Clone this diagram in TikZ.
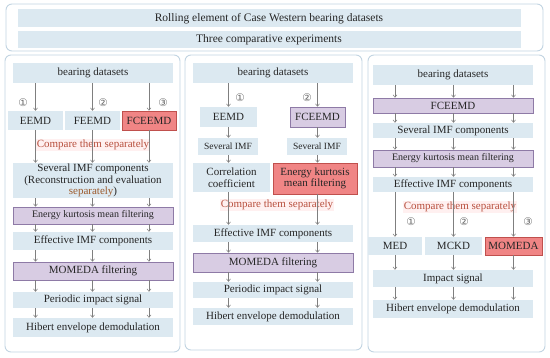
\documentclass[tikz,border=0pt]{standalone}
\usepackage{fontspec}
\setmainfont{Liberation Serif}
\newfontfamily\circfont{DejaVu Sans}
\usetikzlibrary{arrows.meta}
\definecolor{boxblue}{HTML}{DCE9F1}
\definecolor{boxpurple}{HTML}{D8CCE3}
\definecolor{purpleline}{HTML}{8E7AA6}
\definecolor{boxred}{HTML}{F08585}
\definecolor{redline}{HTML}{C0504D}
\definecolor{cmpred}{HTML}{B8503E}
\definecolor{sepbrown}{HTML}{9C5A2C}
\definecolor{panelline}{HTML}{C2D4E2}
\definecolor{arrowgray}{HTML}{7F7F7F}

\begin{document}
\begin{tikzpicture}[x=1pt, y=-1pt,
    panel/.style={
        draw=panelline,
        line width=0.9pt,
        rounded corners=6pt,
        fill=white
    },
    bar/.style={
        rectangle,
        draw=none,
        fill=boxblue,
        inner sep=0pt,
        align=center,
        text=black!85,
        font=\fontsize{11}{11.5}\selectfont
    },
    purplebox/.style={
        bar,
        fill=boxpurple,
        draw=purpleline,
        line width=0.6pt
    },
    redbox/.style={
        bar,
        fill=boxred,
        draw=redline,
        line width=0.6pt
    },
    cmptext/.style={
        text=cmpred,
        fill=red!6,
        inner sep=1pt,
        font=\fontsize{11}{12}\selectfont
    },
    num/.style={
        text=black!60,
        inner sep=0pt,
        font=\circfont\fontsize{10.5}{11}\selectfont
    },
    arr/.style={
        -{Straight Barb[length=2.5pt,width=4pt]},
        draw=arrowgray,
        line width=0.5pt
    }
]
\useasboundingbox (0,0) rectangle (550,358);

% Cabecera
\draw[panel] (6,4) rectangle (543,51);
\node[bar, minimum width=503, minimum height=17.5, font=\fontsize{11.5}{12}\selectfont] (title) at (269,18.25) {Rolling element of Case Western bearing datasets};
\node[bar, minimum width=503, minimum height=17.5, font=\fontsize{11.5}{12}\selectfont] (experiments) at (269,39.7) {Three comparative experiments};

% Paneles
\draw[panel] (5,55) rectangle (180,352);
\draw[panel] (185,55) rectangle (362,350);
\draw[panel] (368,55) rectangle (545,352);

% Experimento 1
\node[bar, minimum width=160, minimum height=20] (bd1) at (93,73) {bearing datasets};
\node[bar, minimum width=55, minimum height=19] (eemd1) at (35.5,120.5) {EEMD};
\node[bar, minimum width=55, minimum height=19] (feemd1) at (92.5,120.5) {FEEMD};
\node[redbox, minimum width=54, minimum height=19] (fceemd1) at (149,120.5) {FCEEMD};
\node[num] (n1a) at (23,103) {①};
\node[num] (n1b) at (103,103) {②};
\node[num] (n1c) at (163,103) {③};
\node[cmptext] (cmp1) at (93,145) {Compare them separately};
\node[bar, minimum width=160, minimum height=35] (imf1) at (93,180.5)
    {Several IMF components\\(Reconstruction and evaluation\\\textcolor{sepbrown}{separately})};
\node[purplebox, minimum width=160, minimum height=17, font=\fontsize{10}{11}\selectfont] (ekm1) at (93,215.5) {Energy kurtosis mean filtering};
\node[bar, minimum width=160, minimum height=18] (eff1) at (93,241) {Effective IMF components};
\node[purplebox, minimum width=160, minimum height=18] (mom1) at (93,271) {MOMEDA filtering};
\node[bar, minimum width=160, minimum height=16] (per1) at (93,300) {Periodic impact signal};
\node[bar, minimum width=160, minimum height=19] (hib1) at (93,327.5) {Hibert envelope demodulation};

% Experimento 2
\node[bar, minimum width=160, minimum height=20] (bd2) at (273,73) {bearing datasets};
\node[bar, minimum width=57, minimum height=20] (eemd2) at (228.5,117) {EEMD};
\node[purplebox, minimum width=55, minimum height=20] (fceemd2) at (317.5,117) {FCEEMD};
\node[num] (n2a) at (240,98) {①};
\node[num] (n2b) at (307,98) {②};
\node[bar, minimum width=60, minimum height=17, font=\fontsize{9.5}{10}\selectfont] (sev2a) at (228,146.5) {Several IMF};
\node[bar, minimum width=60, minimum height=17, font=\fontsize{9.5}{10}\selectfont] (sev2b) at (317,146.5) {Several IMF};
\node[bar, minimum width=77, minimum height=29] (cor2) at (231.5,177.5) {Correlation\\coefficient};
\node[redbox, minimum width=84, minimum height=31] (ekm2) at (315,178.5) {Energy kurtosis\\mean filtering};
\node[cmptext] (cmp2) at (277,205) {Compare them separately};
\node[bar, minimum width=160, minimum height=17] (eff2) at (273,233.5) {Effective IMF components};
\node[purplebox, minimum width=160, minimum height=19] (mom2) at (273,262.5) {MOMEDA filtering};
\node[bar, minimum width=160, minimum height=16] (per2) at (273,290) {Periodic impact signal};
\node[bar, minimum width=160, minimum height=17] (hib2) at (273,316.5) {Hibert envelope demodulation};

% Experimento 3
\node[bar, minimum width=160, minimum height=20] (bd3) at (453,75) {bearing datasets};
\node[purplebox, minimum width=160, minimum height=15] (fce3) at (453,105.5) {FCEEMD};
\node[bar, minimum width=160, minimum height=15] (imf3) at (453,130.5) {Several IMF components};
\node[purplebox, minimum width=160, minimum height=17, font=\fontsize{10}{11}\selectfont] (ekm3) at (453,158.5) {Energy kurtosis mean filtering};
\node[bar, minimum width=160, minimum height=15] (eff3) at (453,184.5) {Effective IMF components};
\node[cmptext] (cmp3) at (460,207) {Compare them separately};
\node[num] (n3a) at (411,222) {①};
\node[num] (n3b) at (464,222) {②};
\node[num] (n3c) at (528,222) {③};
\node[bar, minimum width=54, minimum height=18] (med3) at (395,246) {MED};
\node[bar, minimum width=57, minimum height=18] (mckd3) at (453.5,246) {MCKD};
\node[redbox, minimum width=57, minimum height=18] (momeda3) at (513.5,246) {MOMEDA};
\node[bar, minimum width=160, minimum height=17] (imp3) at (453,278.5) {Impact signal};
\node[bar, minimum width=160, minimum height=18] (hib3) at (453,309) {Hibert envelope demodulation};

% Flechas
\foreach \c in {eemd1,feemd1,fceemd1}{
    \draw[arr] (\c.north |- bd1.south) -- (\c.north);
    \draw[arr] (\c.south) -- (\c.south |- imf1.north);
    \foreach \a/\b in {imf1/ekm1, ekm1/eff1, eff1/mom1, mom1/per1, per1/hib1}
        \draw[arr] (\c |- \a.south) -- (\c |- \b.north);
}
\foreach \c/\d/\e in {eemd2/sev2a/cor2, fceemd2/sev2b/ekm2}{
    \draw[arr] (\c.north |- bd2.south) -- (\c.north);
    \draw[arr] (\c.south) -- (\c.south |- \d.north);
    \draw[arr] (\c |- \d.south) -- (\c |- \e.north);
    \draw[arr] (\c |- \e.south) -- (\c |- eff2.north);
    \foreach \a/\b in {eff2/mom2, mom2/per2, per2/hib2}
        \draw[arr] (\c |- \a.south) -- (\c |- \b.north);
}
\foreach \c in {med3,mckd3,momeda3}{
    \foreach \a/\b in {bd3/fce3, fce3/imf3, imf3/ekm3, ekm3/eff3, imp3/hib3}
        \draw[arr] (\c |- \a.south) -- (\c |- \b.north);
    \draw[arr] (\c.north |- eff3.south) -- (\c.north);
    \draw[arr] (\c.south) -- (\c.south |- imp3.north);
}

\end{tikzpicture}
\end{document}
